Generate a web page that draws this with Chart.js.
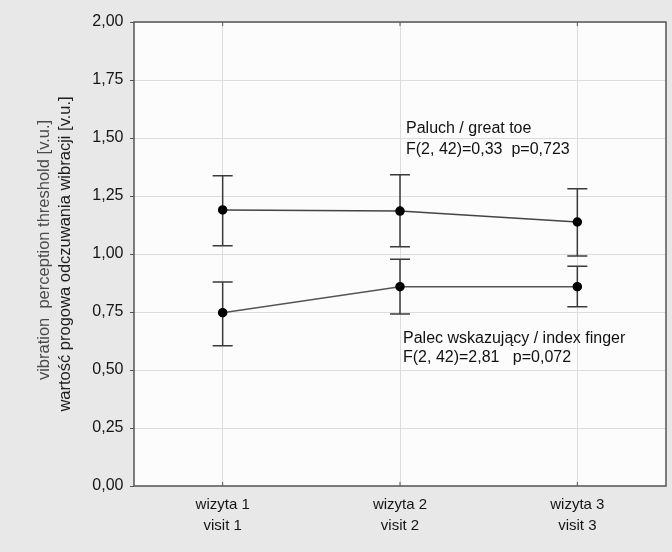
<!DOCTYPE html>
<html lang="pl">
<head>
<meta charset="UTF-8">
<title>Próg czucia wibracji</title>
<style>
    html, body { margin: 0; padding: 0; background: #e8e8e8; }
    .wrap { width: 672px; height: 552px; }
</style>
</head>
<body>
<div class="wrap"><canvas id="chart" width="672" height="552"></canvas></div>
<script src="https://cdn.jsdelivr.net/npm/chart.js"></script>
<script>
// dane
const visits = [['wizyta 1', 'visit 1'], ['wizyta 2', 'visit 2'], ['wizyta 3', 'visit 3']];
const yTicks = [0, 0.25, 0.5, 0.75, 1, 1.25, 1.5, 1.75, 2];

const toeMean = [1.19, 1.185, 1.138];
const toeLow = [1.036, 1.031, 0.991];
const toeHigh = [1.337, 1.342, 1.281];

const fingerMean = [0.747, 0.859, 0.859];
const fingerLow = [0.605, 0.741, 0.773];
const fingerHigh = [0.879, 0.977, 0.947];

const FONT = "'Liberation Sans', Arial, sans-serif";

// tło i ramka obszaru wykresu
const backgroundPlugin = {
    id: 'bg',
    beforeDraw(chart) {
        const { ctx, chartArea: a } = chart;
        ctx.save();
        ctx.fillStyle = '#e8e8e8';
        ctx.fillRect(0, 0, chart.width, chart.height);
        ctx.fillStyle = '#fcfcfc';
        ctx.fillRect(a.left, a.top, a.right - a.left, a.bottom - a.top);
        ctx.restore();
    },
    afterDraw(chart) {
        const { ctx, chartArea: a } = chart;
        ctx.save();
        ctx.strokeStyle = '#555';
        ctx.lineWidth = 1.5;
        ctx.strokeRect(a.left, a.top, a.right - a.left, a.bottom - a.top);
        // krótkie kreski do wewnątrz na osi x
        const xs = chart.scales.x;
        ctx.lineWidth = 1;
        visits.forEach((v, i) => {
            const x = xs.getPixelForValue(i);
            ctx.beginPath();
            ctx.moveTo(x, a.bottom); ctx.lineTo(x, a.bottom - 4);
            ctx.moveTo(x, a.top); ctx.lineTo(x, a.top + 4);
            ctx.stroke();
        });
        ctx.restore();
    }
};

// słupki błędów
const errorBarPlugin = {
    id: 'errorBars',
    beforeDatasetsDraw(chart) {
        const { ctx } = chart;
        const xs = chart.scales.x, ys = chart.scales.y;
        const sets = [[toeLow, toeHigh], [fingerLow, fingerHigh]];
        ctx.save();
        ctx.strokeStyle = '#3a3a3a';
        ctx.lineWidth = 1.5;
        sets.forEach(([lo, hi]) => {
            lo.forEach((l, i) => {
                const x = xs.getPixelForValue(i);
                const yl = ys.getPixelForValue(l);
                const yh = ys.getPixelForValue(hi[i]);
                ctx.beginPath();
                ctx.moveTo(x, yl); ctx.lineTo(x, yh);
                ctx.moveTo(x - 10, yl); ctx.lineTo(x + 10, yl);
                ctx.moveTo(x - 10, yh); ctx.lineTo(x + 10, yh);
                ctx.stroke();
            });
        });
        ctx.restore();
    }
};

// tytuł osi y i opisy serii
const textPlugin = {
    id: 'texts',
    afterDraw(chart) {
        const { ctx, chartArea: a } = chart;
        const xs = chart.scales.x, ys = chart.scales.y;
        ctx.save();
        const cy = (a.top + a.bottom) / 2;
        ctx.translate(44, cy);
        ctx.rotate(-Math.PI / 2);
        ctx.textAlign = 'center';
        ctx.textBaseline = 'middle';
        ctx.font = '16.5px ' + FONT;
        ctx.fillStyle = '#4a4a4a';
        ctx.fillText('vibration  perception threshold [v.u.]', 4, 0);
        ctx.fillStyle = '#1e1e1e';
        ctx.fillText('wartość progowa odczuwania wibracji [v.u.]', 0, 21);
        ctx.restore();

        ctx.save();
        ctx.font = '16px ' + FONT;
        ctx.fillStyle = '#111';
        ctx.textAlign = 'left';
        ctx.textBaseline = 'middle';
        const x0 = xs.getPixelForValue(1);
        ctx.fillText('Paluch / great toe', x0 + 6, ys.getPixelForValue(1.54));
        ctx.fillText('F(2, 42)=0,33  p=0,723', x0 + 6, ys.getPixelForValue(1.452));
        ctx.fillText('Palec wskazujący / index finger', x0 + 3, ys.getPixelForValue(0.635));
        ctx.fillText('F(2, 42)=2,81   p=0,072', x0 + 3, ys.getPixelForValue(0.555));
        ctx.restore();
    }
};

const ctx = document.getElementById('chart').getContext('2d');
new Chart(ctx, {
    type: 'line',
    data: {
        labels: visits,
        datasets: [
            {
                label: 'Paluch / great toe',
                data: toeMean,
                borderColor: '#444',
                borderWidth: 1.5,
                pointRadius: 4,
                pointBackgroundColor: '#000',
                pointBorderColor: '#000',
                tension: 0,
                fill: false
            },
            {
                label: 'Palec wskazujący / index finger',
                data: fingerMean,
                borderColor: '#555',
                borderWidth: 1.5,
                pointRadius: 4,
                pointBackgroundColor: '#000',
                pointBorderColor: '#000',
                tension: 0,
                fill: false
            }
        ]
    },
    options: {
        responsive: false,
        animation: false,
        layout: { padding: { left: 0, top: 22, right: 6, bottom: 0 } },
        plugins: {
            legend: { display: false },
            tooltip: { enabled: false },
            title: { display: false }
        },
        scales: {
            x: {
                offset: true,
                afterFit(scale) { scale.height = 66; },
                grid: { color: '#dcdcdc', drawTicks: false },
                border: { display: false },
                ticks: {
                    padding: 9,
                    color: '#151515',
                    font: { family: FONT, size: 15, lineHeight: 1.38 }
                }
            },
            y: {
                min: 0,
                max: 2,
                afterFit(scale) { scale.width = 134; },
                afterBuildTicks(scale) { scale.ticks = yTicks.map(v => ({ value: v })); },
                grid: { color: '#dcdcdc', tickColor: '#555', tickLength: 4 },
                border: { display: false },
                ticks: {
                    padding: 6.5,
                    color: '#151515',
                    font: { family: FONT, size: 16 },
                    callback: v => v.toFixed(2).replace('.', ',')
                }
            }
        }
    },
    plugins: [backgroundPlugin, errorBarPlugin, textPlugin]
});
</script>
</body>
</html>
